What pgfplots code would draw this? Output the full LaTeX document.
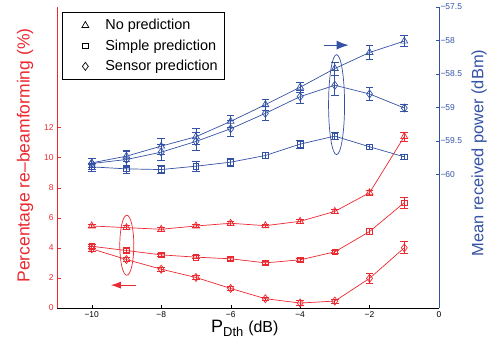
\documentclass[border=0pt]{standalone}
\usepackage{pgfplots}
\pgfplotsset{compat=1.18}
\usepackage{pgfplotstable}
\usetikzlibrary{arrows.meta}
\usepackage{fontspec}
\setmainfont{Liberation Sans}
\definecolor{myred}{RGB}{236,40,48}
\definecolor{myblue}{RGB}{52,82,165}

\pgfplotstableread{
x y e
-10 5.45 0.12
-9 5.34 0.12
-8 5.23 0.12
-7 5.45 0.12
-6 5.63 0.12
-5 5.47 0.10
-4 5.76 0.12
-3 6.42 0.12
-2 7.66 0.15
-1 11.39 0.30
}\rno
\pgfplotstableread{
x y e
-10 4.10 0.12
-9 3.82 0.12
-8 3.53 0.10
-7 3.38 0.10
-6 3.27 0.10
-5 3.00 0.10
-4 3.20 0.10
-3 3.73 0.12
-2 5.08 0.20
-1 7.00 0.35
}\rsimple
\pgfplotstableread{
x y e
-10 3.93 0.15
-9 3.22 0.15
-8 2.58 0.15
-7 2.03 0.12
-6 1.30 0.15
-5 0.62 0.12
-4 0.33 0.15
-3 0.46 0.12
-2 1.97 0.30
-1 4.00 0.40
}\rsensor
\pgfplotstableread{
x y e
-10 -59.83 0.07
-9 -59.73 0.08
-8 -59.58 0.12
-7 -59.44 0.12
-6 -59.21 0.09
-5 -58.96 0.08
-4 -58.70 0.07
-3 -58.42 0.10
-2 -58.18 0.10
-1 -58.01 0.08
}\bno
\pgfplotstableread{
x y e
-10 -59.89 0.06
-9 -59.92 0.06
-8 -59.93 0.06
-7 -59.88 0.07
-6 -59.82 0.06
-5 -59.72 0.05
-4 -59.55 0.06
-3 -59.43 0.05
-2 -59.59 0.04
-1 -59.74 0.04
}\bsimple
\pgfplotstableread{
x y e
-10 -59.84 0.08
-9 -59.78 0.12
-8 -59.67 0.12
-7 -59.51 0.13
-6 -59.32 0.12
-5 -59.09 0.10
-4 -58.84 0.10
-3 -58.67 0.15
-2 -58.80 0.10
-1 -59.01 0.05
}\bsensor

\pgfplotsset{
  common/.style={
    at={(57bp,33bp)}, anchor=south west, scale only axis,
    width=382bp, height=301bp,
    xmin=-11, xmax=0,
    tick align=inside, major tick length=3.5bp,
    tick label style={font=\fontsize{8.5}{10}\selectfont},
    /pgf/number format/assume math mode=true,
  },
  ser/.style={line width=0.7bp, mark options={solid, line width=0.7bp, fill=none},
    error bars/y dir=both, error bars/y explicit,
    error bars/error bar style={line width=0.7bp},
    error bars/error mark options={rotate=90, mark size=3.8bp, line width=0.7bp}},
  legimg/.style={only marks, black, mark=#1, mark options={solid, line width=0.7bp},
    legend image code/.code={\path[draw=none, fill=none] (0bp,-3bp) rectangle (36bp,3bp); \draw[##1] plot coordinates {(18bp,0bp)};}},
}

\begin{document}
\begin{tikzpicture}[x=1bp,y=1bp]
\useasboundingbox (0,0) rectangle (497,341);
\begin{axis}[common,
  ymin=0, ymax=20,
  axis y line*=left, axis x line*=bottom,
  xtick={-10,-8,-6,-4,-2,0},
  xticklabels={−10,−8,−6,−4,−2,0},
  ytick={0,2,4,6,8,10,12},
  y axis line style={draw=myred, line width=0.8bp},
  x axis line style={draw=black, line width=0.8bp},
  ytick style={draw=myred},
  xtick style={draw=black},
  yticklabel style={text=myred},
  legend style={at={(0.013,0.983)}, anchor=north west, draw=black, line width=0.8bp,
    font=\fontsize{14.5}{16}\selectfont, row sep=4.5bp, inner xsep=5bp, inner ysep=5bp},
  legend cell align=left,
]
\addlegendimage{legimg=triangle, mark size=4bp}
\addlegendentry{No prediction}
\addlegendimage{legimg=square, mark size=2.8bp}
\addlegendentry{Simple prediction}
\addlegendimage{legimg=diamond, mark size=4bp}
\addlegendentry{Sensor prediction}

\addplot[myred, mark=triangle, mark size=4bp, ser, forget plot] table[x=x, y=y, y error=e]{\rno};
\addplot[myred, mark=square, mark size=2.8bp, ser, forget plot] table[x=x, y=y, y error=e]{\rsimple};
\addplot[myred, mark=diamond, mark size=4bp, ser, forget plot] table[x=x, y=y, y error=e]{\rsensor};

\draw[myred, line width=0.7bp] (axis cs:-8.99,4.17) ellipse [x radius=7bp, y radius=30bp];
\draw[myred, line width=1bp, -{Latex[length=10bp, width=7bp]}] (axis cs:-8.73,1.52) -- (axis cs:-9.45,1.52);
\end{axis}

\begin{axis}[common,
  ymin=-62, ymax=-57.5,
  axis y line*=right, axis x line=none,
  ytick={-60,-59.5,-59,-58.5,-58,-57.5},
  yticklabels={−60,−59.5,−59,−58.5,−58,−57.5},
  y axis line style={draw=myblue, line width=0.8bp},
  ytick style={draw=myblue},
  yticklabel style={text=myblue, xshift=-2bp},
]
\addplot[myblue, mark=triangle, mark size=4bp, ser] table[x=x, y=y, y error=e]{\bno};
\addplot[myblue, mark=square, mark size=2.8bp, ser] table[x=x, y=y, y error=e]{\bsimple};
\addplot[myblue, mark=diamond, mark size=4bp, ser] table[x=x, y=y, y error=e]{\bsensor};

\draw[myblue, line width=0.7bp] (axis cs:-2.95,-58.96) ellipse [x radius=8bp, y radius=50bp];
\draw[myblue, line width=1.2bp, -{Latex[length=12bp, width=9bp]}] (axis cs:-3.32,-58.07) -- (axis cs:-2.60,-58.07);
\end{axis}

\node[rotate=90, text=myred, font=\fontsize{17.6}{19}\selectfont] at (25,185.5) {Percentage re–beamforming (\%)};
\node[rotate=90, text=myblue, font=\fontsize{16.5}{18}\selectfont] at (479,188) {Mean received power (dBm)};
\node[anchor=base west, font=\fontsize{18}{20}\selectfont, inner sep=0pt] at (211,9) {P\raisebox{-0.45ex}{\fontsize{13}{14}\selectfont Dth} \fontsize{16}{18}\selectfont(dB)};
\end{tikzpicture}
\end{document}
